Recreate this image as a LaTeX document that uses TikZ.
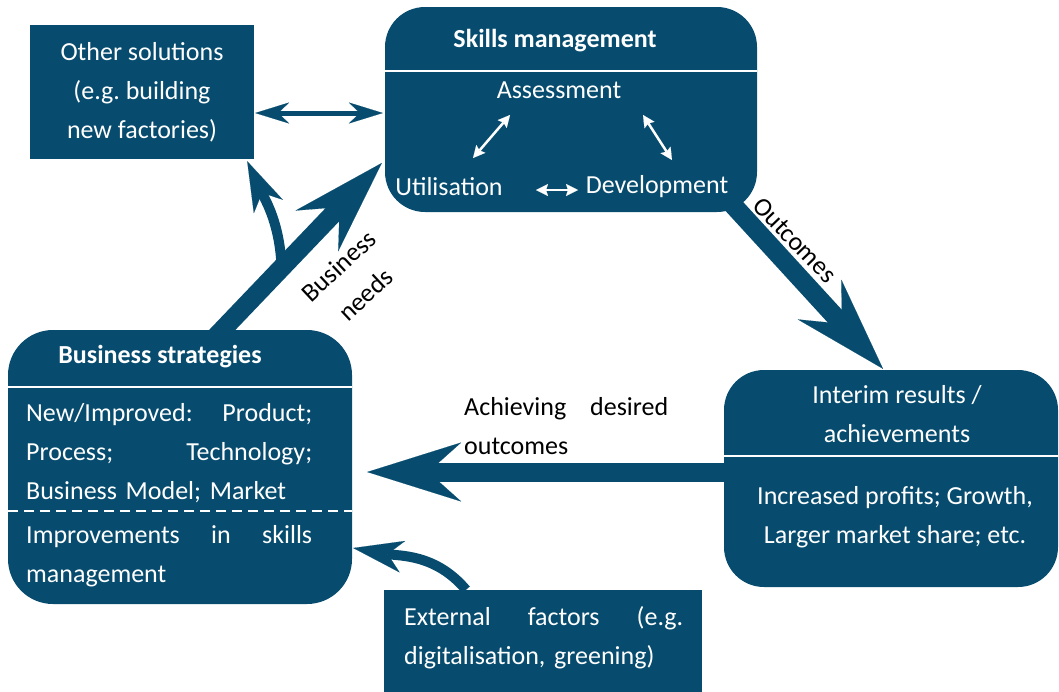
\documentclass[tikz,border=0pt]{standalone}
\usepackage{fontspec}
\setmainfont{Carlito}
\usetikzlibrary{arrows.meta,calc}
\definecolor{navy}{HTML}{074C6E}
\pgfdeclarelayer{background}
\pgfsetlayers{background,main}
\frenchspacing
\tikzset{
  box/.style={fill=navy, draw=none, inner sep=0pt},
  rbox/.style={box, rounded corners=40pt},
  wtext/.style={text=white, font=\fontsize{26}{39}\selectfont\frenchspacing, inner sep=0pt},
  wbold/.style={text=white, font=\fontsize{26}{39}\selectfont\bfseries, inner sep=0pt},
  ktext/.style={text=black, font=\fontsize{26}{39}\selectfont\frenchspacing, inner sep=0pt},
  hdr/.style={white, line width=2.5pt},
  dashrule/.style={white, line width=2pt, dash pattern=on 10pt off 6pt},
  bigarrow/.style={navy, line width=19pt, -{Stealth[length=94pt,width=59pt,inset=33pt,line width=0.1pt]}},
  curvearrow/.style={navy, line width=10pt, -{Stealth[length=50pt,width=32pt,inset=15pt,line width=0.1pt]}},
  midarrow/.style={navy, line width=5pt, {Stealth[length=34pt,width=21pt,inset=11pt,line width=0.1pt]}-{Stealth[length=34pt,width=21pt,inset=11pt,line width=0.1pt]}},
  warrow/.style={white, line width=2.5pt, {Stealth[length=12pt,width=12pt,inset=2pt,line width=0.1pt]}-{Stealth[length=12pt,width=12pt,inset=2pt,line width=0.1pt]}}
}
\begin{document}
\begin{tikzpicture}[x=1pt,y=1pt]
\useasboundingbox (0,0) rectangle (1059,-691);
% boxes
\node[box, wtext, align=center, minimum width=224pt, minimum height=134pt] (other) at (142,-92) {Other solutions\\(e.g. building\\new factories)};
\node[rbox, minimum width=372pt, minimum height=205pt] (skills) at (571,-109.5) {};
\node[rbox, rounded corners=45pt, minimum width=344pt, minimum height=274pt] (biz) at (180,-467) {};
\node[rbox, minimum width=334pt, minimum height=217pt] (interim) at (891,-478.5) {};
\node[box, minimum width=318pt, minimum height=110pt] (ext) at (543,-645) {};
% header rules
\draw[hdr] ([yshift=-64pt]skills.north west) -- ([yshift=-64pt]skills.north east);
\draw[hdr] ([yshift=-57pt]biz.north west) -- ([yshift=-57pt]biz.north east);
\draw[dashrule] ([yshift=-181pt]biz.north west) -- ([yshift=-181pt]biz.north east);
\draw[hdr] ([yshift=-86pt]interim.north west) -- ([yshift=-86pt]interim.north east);
% texts
\node[wbold] (skillsT) at (555,-41) {Skills management};
\node[wtext] (assess) at (559,-90) {Assessment};
\node[wtext] (util) at (449,-187) {Utilisation};
\node[wtext] (devel) at (657,-187) {Development};
\node[wbold] (bizT) at (160,-357) {Business strategies};
\node[wtext, text width=286pt, align=left, anchor=west] (bizA) at (26,-453) {New/Improved:\hfill Product;\\Process;\hfill Technology;\\Business Model; Market};
\node[wtext, text width=286pt, align=left, anchor=west] (bizB) at (26,-556.5) {Improvements\hfill in\hfill skills\\management};
\node[wtext, align=center] (interimT) at (897,-414) {Interim results /\\achievements};
\node[wtext, align=center] (interimB) at (895,-517) {Increased profits; Growth,\\Larger market share; etc.};
\node[wtext, text width=279pt, align=left, anchor=west] (extT) at (404,-637.5) {External\hfill factors\hfill (e.g.\\digitalisation, greening)};
\node[ktext, text width=204pt, align=left, anchor=west] (achT) at (464,-426) {Achieving\hfill desired\\outcomes};
\node[ktext, rotate=43, align=center] (bnT) at (352,-280) {Business\\needs};
\node[ktext, rotate=-46] (outT) at (795,-240) {Outcomes};
% white arrows inside skills box
\coordinate (w1a) at (510,-115); \coordinate (w1b) at (473,-158);
\coordinate (w2a) at (643,-115); \coordinate (w2b) at (672,-160);
\coordinate (w3a) at (536,-190); \coordinate (w3b) at (578,-190);
\draw[warrow] (w1a) -- (w1b);
\draw[warrow] (w2a) -- (w2b);
\draw[warrow] (w3a) -- (w3b);
% double arrow other <-> skills
\draw[midarrow] ([xshift=1pt,yshift=-21pt]other.east) -- ([xshift=-2pt,yshift=-3.5pt]skills.west);
% big arrows
\begin{pgfonlayer}{background}
\coordinate (bnS) at ([xshift=29pt,yshift=-14pt]biz.north);
\coordinate (bnE) at ([xshift=-3pt,yshift=-53.5pt]skills.west);
\draw[bigarrow] (bnS) -- (bnE);
\coordinate (bnM) at ($(bnS)!0.42!(bnE)$);
\draw[curvearrow] (bnM) to[out=92, in=-65] ([xshift=-7pt,yshift=-2pt]other.south east);
\coordinate (ouS) at ([xshift=-35pt,yshift=19pt]skills.south east);
\draw[bigarrow] (ouS) -- ([xshift=-8pt,yshift=1pt]interim.north);
\draw[bigarrow] ([yshift=6.5pt]interim.west) -- ([xshift=15pt,yshift=-5pt]biz.east);
\draw[curvearrow] ([xshift=-77pt]ext.north) to[out=130, in=-10] ([xshift=1pt,yshift=-81pt]biz.east);
\end{pgfonlayer}
\end{tikzpicture}
\end{document}
